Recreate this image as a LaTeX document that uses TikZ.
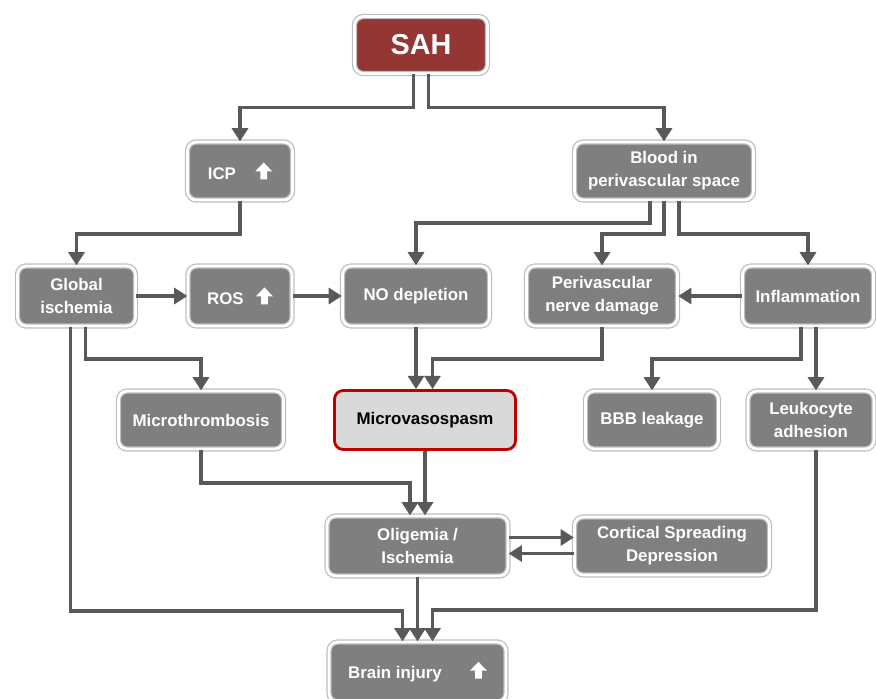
\documentclass[tikz,border=0pt]{standalone}
\usepackage{fontspec}
\setmainfont{Liberation Sans}
\usetikzlibrary{arrows.meta}
\definecolor{boxgray}{HTML}{7F7F7F}
\definecolor{rimgray}{HTML}{BDBDBD}
\definecolor{linegray}{HTML}{595959}
\definecolor{sahred}{HTML}{943634}
\definecolor{spasmred}{HTML}{C00000}
\definecolor{spasmfill}{HTML}{D9D9D9}
\newcommand{\upmark}{\tikz[baseline=0pt, sharp corners]\fill[white, draw=none] (-1.9pt,0) -- (1.9pt,0) -- (1.9pt,4.6pt) -- (4.8pt,4.6pt) -- (0,9.6pt) -- (-4.8pt,4.6pt) -- (-1.9pt,4.6pt) -- cycle;}
\begin{document}
\begin{tikzpicture}[
    box/.style={rectangle, rounded corners=5pt, fill=boxgray, draw=rimgray, double=white, double distance=1.6pt, line width=0.7pt, text=white, font=\bfseries\fontsize{9.6}{13}\selectfont, align=center, minimum height=1.16cm, inner sep=2pt},
    arr/.style={draw=linegray, line width=2pt, -{Triangle[width=9pt,length=7.5pt]}}
  ]
    \useasboundingbox (0,0) rectangle (17.52,-13.96);
    \node[box, fill=sahred, minimum width=2.66cm, minimum height=1.14cm, font=\bfseries\fontsize{16.4}{18}\selectfont] (sah) at (8.42,-0.9) {SAH};
    \node[box, minimum width=2.1cm] (icp) at (4.8,-3.42) {ICP\hspace{11pt}\upmark};
    \node[box, minimum width=3.58cm] (blood) at (13.28,-3.42) {Blood in\\perivascular space};
    \node[box, minimum width=2.36cm, minimum height=1.2cm] (global) at (1.53,-5.92) {Global\\ischemia};
    \node[box, minimum width=2.08cm, minimum height=1.2cm] (ros) at (4.8,-5.92) {ROS\hspace{7pt}\upmark};
    \node[box, minimum width=2.94cm, minimum height=1.2cm] (nodep) at (8.32,-5.92) {NO depletion};
    \node[box, minimum width=3.02cm, minimum height=1.2cm] (nerve) at (12.04,-5.92) {Perivascular\\nerve damage};
    \node[box, minimum width=2.62cm, minimum height=1.2cm] (inflam) at (16.16,-5.92) {Inflammation};
    \node[box, minimum width=3.3cm] (thromb) at (4.02,-8.4) {Microthrombosis};
    \node[box, fill=spasmfill, draw=spasmred, double=none, line width=1.6pt, text=black, minimum width=3.62cm, minimum height=1.18cm] (spasm) at (8.5,-8.4) {Microvasospasm};
    \node[box, minimum width=2.66cm] (bbb) at (13.04,-8.4) {BBB leakage};
    \node[box, minimum width=2.52cm] (leuko) at (16.22,-8.4) {Leukocyte\\adhesion};
    \node[box, minimum width=3.62cm, minimum height=1.2cm] (olig) at (8.35,-10.92) {Oligemia /\\Ischemia};
    \node[box, minimum width=3.9cm] (csd) at (13.44,-10.92) {Cortical Spreading\\Depression};
    \node[box, minimum width=3.54cm, minimum height=1.2cm] (brain) at (8.35,-13.44) {Brain injury\hspace{16pt}\upmark};
    \coordinate (inflR) at ([xshift=0.16cm]inflam.south);
    \draw[arr] ([xshift=-0.15cm]sah.south) -- ++(0,-0.67) -| (icp.north);
    \draw[arr] ([xshift=0.15cm]sah.south) -- ++(0,-0.67) -| (blood.north);
    \draw[arr] (icp.south) -- ++(0,-0.67) -| (global.north);
    \draw[arr] (global.east) -- (ros.west);
    \draw[arr] (ros.east) -- (nodep.west);
    \draw[arr] ([xshift=-0.28cm]blood.south) -- ++(0,-0.45) -| (nodep.north);
    \draw[arr] (blood.south) -- ++(0,-0.67) -| (nerve.north);
    \draw[arr] ([xshift=0.3cm]blood.south) -- ++(0,-0.67) -| (inflam.north);
    \draw[arr] (inflam.west) -- (nerve.east);
    \draw[arr] (nodep.south) -- (nodep.south |- spasm.north);
    \draw[arr] (nerve.south) -- ++(0,-0.65) -| ([xshift=0.15cm]spasm.north);
    \draw[arr] ([xshift=-0.14cm]inflam.south) -- ++(0,-0.65) -| (bbb.north);
    \draw[arr] (inflR) -- (inflR |- leuko.north);
    \draw[arr] ([xshift=0.18cm]global.south) -- ++(0,-0.65) -| (thromb.north);
    \draw[arr] ([xshift=-0.12cm]global.south) -- ++(0,-5.69) -| ([xshift=-0.3cm]brain.north);
    \draw[arr] (thromb.south) -- ++(0,-0.67) -| ([xshift=-0.15cm]olig.north);
    \draw[arr] (spasm.south) -- (spasm.south |- olig.north);
    \draw[arr] ([yshift=0.17cm]olig.east) -- ([yshift=0.17cm]csd.west);
    \draw[arr] ([yshift=-0.15cm]csd.west) -- ([yshift=-0.15cm]olig.east);
    \draw[arr] (olig.south) -- (brain.north);
    \draw[arr] ([xshift=0.1cm]leuko.south) -- ++(0,-3.21) -| ([xshift=0.3cm]brain.north);
\end{tikzpicture}
\end{document}
